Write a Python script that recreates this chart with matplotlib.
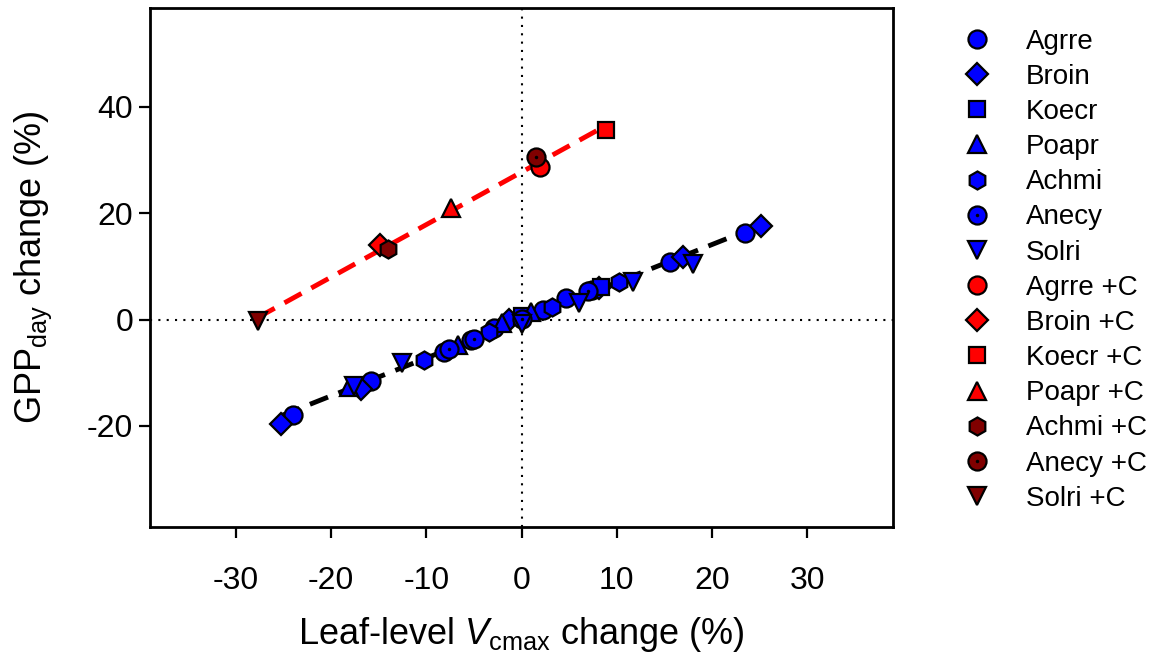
import numpy as np
import matplotlib
matplotlib.use("Agg")
import matplotlib.pyplot as plt
from matplotlib.legend_handler import HandlerTuple

plt.rcParams['font.family'] = ['Liberation Sans', 'DejaVu Sans']
plt.rcParams['mathtext.fontset'] = 'custom'
plt.rcParams['mathtext.rm'] = 'Liberation Sans'
plt.rcParams['mathtext.it'] = 'Liberation Sans:italic'
plt.rcParams['axes.unicode_minus'] = False

# ---- data: ambient (blue) ----
agrre_x = [-24.0, -15.8, -8.1, -5.3, -2.9, 2.3, 4.7, 7.4, 15.6, 23.5]
agrre_y = [-18.0, -11.5, -6.0, -3.8, -1.5, 1.9, 4.1, 5.6, 10.9, 16.3]
broin_x = [-25.2, -16.8, -1.3, 8.1, 16.9, 25.1]
broin_y = [-19.7, -13.1, 0.0, 6.0, 11.8, 17.7]
koecr_x = [0.0, 8.3]
koecr_y = [0.6, 6.2]
poapr_x = [-18.1, -6.7, -2.0, 1.0]
poapr_y = [-12.6, -4.7, -0.6, 1.5]
achmi_x = [-10.2, -3.4, 3.2, 10.2]
achmi_y = [-7.5, -2.3, 2.4, 7.1]
anecy_x = [-7.6, -5.0, 0.0, 7.0]
anecy_y = [-5.6, -3.6, 0.2, 5.3]
solri_x = [-17.6, -12.5, 0.0, 6.0, 11.7, 18.0]
solri_y = [-12.4, -8.1, -0.9, 3.2, 7.0, 10.5]

# ---- data: +C (red) ----
agrre_c_x = [1.9];   agrre_c_y = [28.7]
broin_c_x = [-14.9]; broin_c_y = [14.1]
koecr_c_x = [8.9];   koecr_c_y = [35.7]
poapr_c_x = [-7.4];  poapr_c_y = [21.0]
achmi_c_x = [-14.0]; achmi_c_y = [13.3]
anecy_c_x = [1.5];   anecy_c_y = [30.6]
solri_c_x = [-27.7]; solri_c_y = [-0.3]

labels = ["Agrre", "Broin", "Koecr", "Poapr", "Achmi", "Anecy", "Solri",
          "Agrre +C", "Broin +C", "Koecr +C", "Poapr +C", "Achmi +C", "Anecy +C", "Solri +C"]

BLUE = "#0000FF"
RED = "#FF0000"
DARK = "#800000"

series = [
    (agrre_x, agrre_y, 'o', BLUE, False),
    (broin_x, broin_y, 'D', BLUE, False),
    (koecr_x, koecr_y, 's', BLUE, False),
    (poapr_x, poapr_y, '^', BLUE, False),
    (achmi_x, achmi_y, 'h', BLUE, False),
    (anecy_x, anecy_y, 'o', BLUE, True),
    (solri_x, solri_y, 'v', BLUE, False),
    (agrre_c_x, agrre_c_y, 'o', RED, False),
    (broin_c_x, broin_c_y, 'D', RED, False),
    (koecr_c_x, koecr_c_y, 's', RED, False),
    (poapr_c_x, poapr_c_y, '^', RED, False),
    (achmi_c_x, achmi_c_y, 'h', DARK, False),
    (anecy_c_x, anecy_c_y, 'o', DARK, True),
    (solri_c_x, solri_c_y, 'v', DARK, False),
]

ms = {'o': 13, 'D': 11, 's': 11, '^': 13, 'h': 13, 'v': 13}

fig = plt.figure(figsize=(11.61, 6.56), dpi=100)
ax = fig.add_axes([0.1292, 0.1966, 0.7692 - 0.1292, 0.9878 - 0.1966])

ax.axvline(0, color='black', ls=(0, (1, 3)), lw=1.5, zorder=1)
ax.axhline(0, color='black', ls=(0, (1, 3)), lw=1.5, zorder=1)

# regression lines
blue_x = np.concatenate([s[0] for s in series[:7]])
blue_y = np.concatenate([s[1] for s in series[:7]])
red_x = np.concatenate([s[0] for s in series[7:]])
red_y = np.concatenate([s[1] for s in series[7:]])
for xs, ys, c in [(blue_x, blue_y, 'black'), (red_x, red_y, RED)]:
    p = np.polyfit(xs, ys, 1)
    xx = np.array([xs.min(), xs.max()])
    ax.plot(xx, np.polyval(p, xx), color=c, ls=(0, (4, 2.3)), lw=3.5, zorder=2)

handles = []
for (xs, ys, m, c, dot), lab in zip(series, labels):
    h = ax.plot(xs, ys, ls='none', marker=m, ms=ms[m], mfc=c, mec='black', mew=1.6, zorder=3)[0]
    if dot:
        d = ax.plot(xs, ys, ls='none', marker='o', ms=2.5, mfc='black', mec='black', mew=0, zorder=4)[0]
        handles.append((h, d))
    else:
        handles.append(h)

ax.set_xlim(-39, 39)
ax.set_ylim(-39, 58.6)
ax.set_xticks([-30, -20, -10, 0, 10, 20, 30])
ax.set_yticks([-20, 0, 20, 40])
ax.tick_params(direction='out', length=8, width=1.6, labelsize=23)
ax.tick_params(axis='x', pad=20)
ax.tick_params(axis='y', pad=4)
for sp in ax.spines.values():
    sp.set_linewidth(2)

ax.set_xlabel(r"Leaf-level $\mathit{V}_{\mathrm{cmax}}$ change (%)", fontsize=26, labelpad=14)
ax.set_ylabel(r"GPP$_{\mathrm{day}}$ change (%)", fontsize=26, labelpad=24)

leg = ax.legend(handles, labels, loc='upper left', bbox_to_anchor=(1.07, 0.995),
                frameon=False, fontsize=20, handlelength=1.0, handletextpad=1.25,
                labelspacing=0.33, borderaxespad=0.25,
                handler_map={tuple: HandlerTuple(ndivide=1, pad=0)})

fig.savefig("out.png", dpi=100)
